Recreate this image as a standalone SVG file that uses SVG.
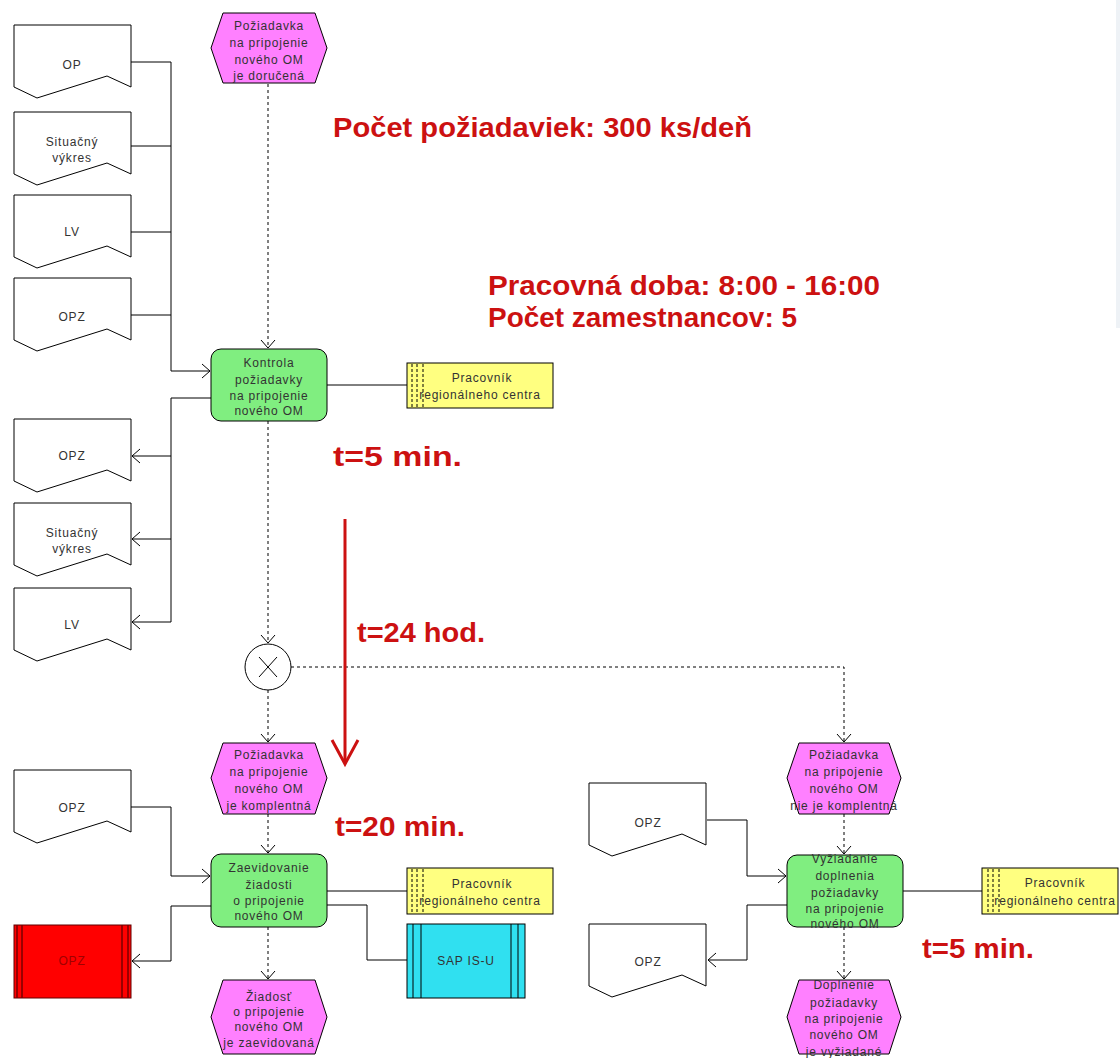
<svg xmlns="http://www.w3.org/2000/svg" width="1120" height="1058" viewBox="0 0 1120 1058">
<style>
.t{font-family:"Liberation Sans",Arial,sans-serif;font-size:12px;letter-spacing:0.8px;fill:#333;text-anchor:middle}
.red{font-family:"Liberation Sans",Arial,sans-serif;font-size:28px;font-weight:bold;fill:#cc1111}
.ev{fill:#ff80ff;stroke:#000;stroke-width:1}
.fn{fill:#80ee80;stroke:#000;stroke-width:1}
.doc{fill:#fff;stroke:#000;stroke-width:1}
.org{fill:#ffff80;stroke:#000;stroke-width:1}
.dots{stroke:#000;stroke-width:1;stroke-dasharray:3,2}
.c{fill:none;stroke:#000;stroke-width:1}
.d{fill:none;stroke:#000;stroke-width:1;stroke-dasharray:3,3}
</style>
<defs>
<marker id="a" markerUnits="userSpaceOnUse" viewBox="0 0 8 14" refX="8" refY="7" markerWidth="8" markerHeight="14" orient="auto" overflow="visible">
<path d="M0,0 L8,7 L0,14" fill="none" stroke="#000" stroke-width="1" stroke-dasharray="none"/>
</marker>
<path id="docShape" d="M0,0 H117 V62 L93,51 L23,73 L0,62 Z"/>
</defs>
<rect width="1120" height="1058" fill="#fff"/>
<rect x="1116" y="0" width="4" height="328" fill="#eef2f6"/>

<g id="connectors">
<path class="d" d="M268,84 V348" marker-end="url(#a)"/>
<path class="c" d="M131,62 H171 V371 H210" marker-end="url(#a)"/>
<path class="c" d="M131,146 H171"/>
<path class="c" d="M131,232 H171"/>
<path class="c" d="M131,315 H171"/>
<path class="c" d="M211,398 H171 V622 H132" marker-end="url(#a)"/>
<path class="c" d="M171,456 H132" marker-end="url(#a)"/>
<path class="c" d="M171,539 H132" marker-end="url(#a)"/>
<path class="c" d="M327,385 H407"/>
<path class="d" d="M268,421 V643" marker-end="url(#a)"/>
<path class="d" d="M268,690 V742" marker-end="url(#a)"/>
<path class="d" d="M291,667 H844 V742" marker-end="url(#a)"/>
<path class="d" d="M268,814 V853" marker-end="url(#a)"/>
<path class="d" d="M268,927 V979" marker-end="url(#a)"/>
<path class="c" d="M131,807 H171 V876 H210" marker-end="url(#a)"/>
<path class="c" d="M211,906 H171 V961 H132" marker-end="url(#a)"/>
<path class="c" d="M327,891 H407"/>
<path class="c" d="M327,905 H367 V960 H407"/>
<path class="d" d="M844,814 V854" marker-end="url(#a)"/>
<path class="d" d="M844,927 V979" marker-end="url(#a)"/>
<path class="c" d="M707,820 H747 V876 H786" marker-end="url(#a)"/>
<path class="c" d="M787,905 H747 V960 H708" marker-end="url(#a)"/>
<path class="c" d="M903,891 H982"/>
</g>

<g id="ev1">
<polygon class="ev" points="223,13 315,13 327,48 315,83 223,83 211,48"/>
<text class="t" x="269" y="30">Požiadavka</text>
<text class="t" x="269" y="47">na pripojenie</text>
<text class="t" x="269" y="64">nového OM</text>
<text class="t" x="269" y="80">je doručená</text>
</g>

<g id="doc-op">
<use href="#docShape" x="14" y="25" class="doc"/>
<text class="t" x="72" y="69">OP</text>
</g>
<g id="doc-sit1">
<use href="#docShape" x="14" y="112" class="doc"/>
<text class="t" x="72" y="146">Situačný</text>
<text class="t" x="72" y="162">výkres</text>
</g>
<g id="doc-lv1">
<use href="#docShape" x="14" y="195" class="doc"/>
<text class="t" x="72" y="236">LV</text>
</g>
<g id="doc-opz1">
<use href="#docShape" x="14" y="278" class="doc"/>
<text class="t" x="72" y="321">OPZ</text>
</g>

<g id="fn1">
<rect class="fn" x="211" y="349" width="116" height="72" rx="10"/>
<text class="t" x="269" y="367">Kontrola</text>
<text class="t" x="269" y="384">požiadavky</text>
<text class="t" x="269" y="400">na pripojenie</text>
<text class="t" x="269" y="415">nového OM</text>
</g>

<g id="org1">
<rect class="org" x="407" y="363" width="146" height="45"/>
<path class="dots" d="M412,364 V408 M417,364 V408 M423,364 V408"/>
<text class="t" x="482" y="382">Pracovník</text>
<text class="t" x="480" y="399">regionálneho centra</text>
</g>

<g id="doc-opz2">
<use href="#docShape" x="14" y="419" class="doc"/>
<text class="t" x="72" y="460">OPZ</text>
</g>
<g id="doc-sit2">
<use href="#docShape" x="14" y="503" class="doc"/>
<text class="t" x="72" y="537">Situačný</text>
<text class="t" x="72" y="553">výkres</text>
</g>
<g id="doc-lv2">
<use href="#docShape" x="14" y="588" class="doc"/>
<text class="t" x="72" y="629">LV</text>
</g>

<g id="xor">
<circle cx="268" cy="667" r="23" fill="#fff" stroke="#000" stroke-width="1"/>
<path d="M259,657 L277,677 M277,657 L259,677" stroke="#000" stroke-width="1"/>
</g>

<g id="ev2">
<polygon class="ev" points="223,743 315,743 327,778 315,814 223,814 211,778"/>
<text class="t" x="269" y="759">Požiadavka</text>
<text class="t" x="269" y="776">na pripojenie</text>
<text class="t" x="269" y="793">nového OM</text>
<text class="t" x="269" y="810">je komplentná</text>
</g>

<g id="doc-opz3">
<use href="#docShape" x="14" y="770" class="doc"/>
<text class="t" x="72" y="812">OPZ</text>
</g>

<g id="fn2">
<rect class="fn" x="211" y="854" width="116" height="73" rx="10"/>
<text class="t" x="269" y="872">Zaevidovanie</text>
<text class="t" x="269" y="889">žiadosti</text>
<text class="t" x="269" y="905">o pripojenie</text>
<text class="t" x="269" y="920">nového OM</text>
</g>

<g id="org2">
<rect class="org" x="407" y="868" width="146" height="46"/>
<path class="dots" d="M412,869 V914 M417,869 V914 M423,869 V914"/>
<text class="t" x="482" y="888">Pracovník</text>
<text class="t" x="480" y="905">regionálneho centra</text>
</g>

<g id="sap">
<rect x="407" y="924" width="118" height="74" fill="#30e0f0" stroke="#000" stroke-width="1"/>
<path d="M413,924 V998 M421,924 V998 M511,924 V998 M518,924 V998" stroke="#000" stroke-width="1"/>
<text class="t" x="466" y="965">SAP IS-U</text>
</g>

<g id="opz-red">
<rect x="14" y="925" width="117" height="73" fill="#ff0000" stroke="#600000" stroke-width="1"/>
<path d="M17,925 V998 M22,925 V998 M122,925 V998 M128,925 V998" stroke="#7a0000" stroke-width="1.5"/>
<text class="t" x="72" y="965" style="fill:#a00000">OPZ</text>
</g>

<g id="ev3">
<polygon class="ev" points="223,980 315,980 327,1017 315,1054 223,1054 211,1017"/>
<text class="t" x="269" y="1001">Žiadosť</text>
<text class="t" x="269" y="1016">o pripojenie</text>
<text class="t" x="269" y="1031">nového OM</text>
<text class="t" x="269" y="1047">je zaevidovaná</text>
</g>

<g id="ev4">
<polygon class="ev" points="799,743 889,743 901,778 889,814 799,814 787,778"/>
<text class="t" x="844" y="759">Požiadavka</text>
<text class="t" x="844" y="776">na pripojenie</text>
<text class="t" x="844" y="793">nového OM</text>
<text class="t" x="844" y="810">nie je komplentná</text>
</g>

<g id="doc-opz4">
<use href="#docShape" x="589" y="783" class="doc"/>
<text class="t" x="648" y="827">OPZ</text>
</g>
<g id="doc-opz5">
<use href="#docShape" x="589" y="924" class="doc"/>
<text class="t" x="648" y="966">OPZ</text>
</g>

<g id="fn3">
<rect class="fn" x="787" y="855" width="116" height="72" rx="10"/>
<text class="t" x="845" y="863">Vyžiadanie</text>
<text class="t" x="845" y="880">doplnenia</text>
<text class="t" x="845" y="897">požiadavky</text>
<text class="t" x="845" y="913">na pripojenie</text>
<text class="t" x="845" y="928">nového OM</text>
</g>

<g id="org3">
<rect class="org" x="982" y="868" width="136" height="46"/>
<path class="dots" d="M988,869 V914 M993,869 V914 M999,869 V914"/>
<text class="t" x="1055" y="887">Pracovník</text>
<text class="t" x="1055" y="905">regionálneho centra</text>
</g>

<g id="ev5">
<polygon class="ev" points="799,980 889,980 901,1017 889,1054 799,1054 787,1017"/>
<text class="t" x="844" y="989">Doplnenie</text>
<text class="t" x="844" y="1007">požiadavky</text>
<text class="t" x="844" y="1023">na pripojenie</text>
<text class="t" x="844" y="1039">nového OM</text>
<text class="t" x="844" y="1056">je vyžiadané</text>
</g>

<g id="annotations">
<text class="red" x="333" y="137" textLength="419" lengthAdjust="spacingAndGlyphs">Počet požiadaviek: 300 ks/deň</text>
<text class="red" x="488" y="295" textLength="392" lengthAdjust="spacingAndGlyphs">Pracovná doba: 8:00 - 16:00</text>
<text class="red" x="488" y="327" textLength="309" lengthAdjust="spacingAndGlyphs">Počet zamestnancov: 5</text>
<text class="red" x="333" y="466" textLength="129" lengthAdjust="spacingAndGlyphs">t=5 min.</text>
<text class="red" x="357" y="642" textLength="128" lengthAdjust="spacingAndGlyphs">t=24 hod.</text>
<text class="red" x="335" y="836" textLength="130" lengthAdjust="spacingAndGlyphs">t=20 min.</text>
<text class="red" x="922" y="958" textLength="112" lengthAdjust="spacingAndGlyphs">t=5 min.</text>
<path d="M345,519 V762" stroke="#cc1111" stroke-width="3" fill="none"/>
<path d="M332,740 L345,764 L358,740" stroke="#cc1111" stroke-width="3" fill="none"/>
</g>
</svg>
